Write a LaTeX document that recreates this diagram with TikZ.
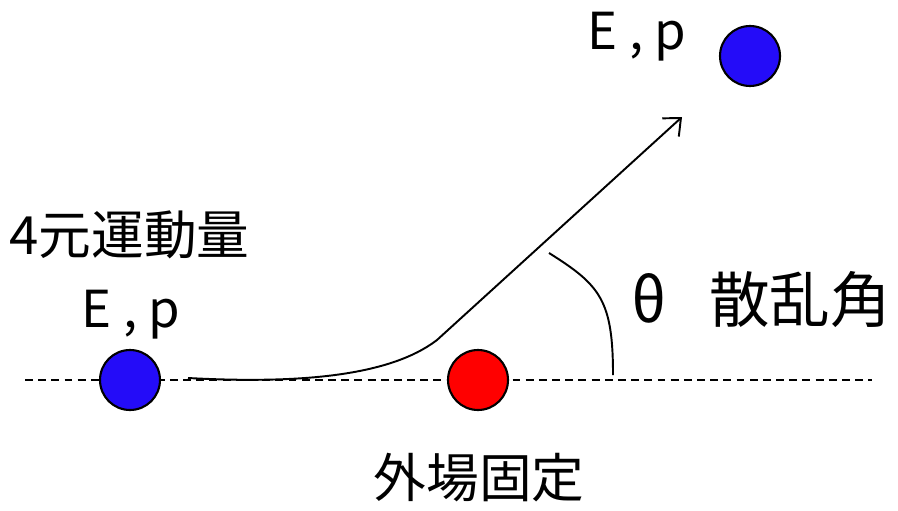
\documentclass[tikz,border=0pt]{standalone}
\usepackage{fontspec}
\setmainfont{Noto Sans CJK JP}
\usepackage{xcolor}
\usepackage{tikz}
\usetikzlibrary{arrows.meta}
\definecolor{incoming}{RGB}{36, 12, 248}
\definecolor{target}{RGB}{255, 0, 0}

\begin{document}
\begin{tikzpicture}[x=0.02cm,y=-0.02cm,
    particle/.style={circle, draw=black, line width=1.2pt, minimum size=1.2cm, inner sep=0pt},
    lbl/.style={inner sep=0pt, font=\fontsize{30}{32}\selectfont},
    eplbl/.style={inner sep=0pt, font=\fontsize{29}{31}\selectfont},
    biglbl/.style={inner sep=0pt, font=\fontsize{34.5}{37}\selectfont}]
\useasboundingbox (0,0) rectangle (898,510);
% Beam axis
\draw[dashed, line width=0.8pt, dash pattern=on 4.5pt off 3pt] (25,380) -- (872,380);
% Particles
\node[particle, fill=incoming] (inc) at (130,380) {};
\node[particle, fill=target] (tgt) at (478,380) {};
\node[particle, fill=incoming] (out) at (750,56) {};
% Trajectory
\coordinate (start) at (188,378);
\coordinate (kink) at (437,340);
\coordinate (tip) at (682,117);
\draw[line width=1.1pt, -{Straight Barb[length=8pt,width=14pt,line width=1.1pt]}]
    (start) .. controls (300,384) and (390,376) .. (kink) -- (tip);
% Scattering angle
\coordinate (arcA) at (549,253);
\coordinate (arcB) at (613,375);
\draw[line width=1.1pt] (arcA) .. controls (600,285) and (613,300) .. (arcB);
% Labels
\node[lbl, anchor=base west] (fourmom) at (9,254) {4元運動量};
\node[eplbl, anchor=base] (eplow) at (131,327) {E , p};
\node[eplbl, anchor=base] (ephigh) at (637,50) {E , p};
\node[biglbl, anchor=base west] (theta) at (631,322) {θ\hspace{0.7em}散乱角};
\node[lbl, anchor=base] (field) at (479,497) {外場固定};
\end{tikzpicture}
\end{document}
